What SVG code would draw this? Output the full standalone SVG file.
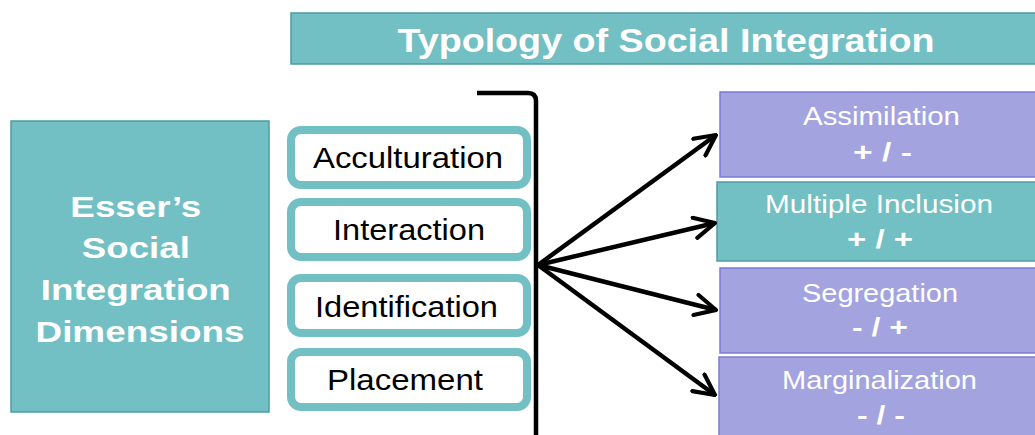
<svg xmlns="http://www.w3.org/2000/svg" width="1035" height="435" viewBox="0 0 1035 435">
<style>
.teal{fill:#72BFC4;stroke:#4E9CA1;stroke-width:1.5}
.lav{fill:#A3A3DF;stroke:#7B7BD6;stroke-width:1.5}
.dim{fill:#FFFFFF;stroke:#72BFC4;stroke-width:8}
.wt{font-family:"Liberation Sans",Arial,sans-serif;fill:#FFFFFF;text-anchor:middle}
.bt{font-family:"Liberation Sans",Arial,sans-serif;fill:#000000;text-anchor:middle;font-size:30px}
.b{font-weight:bold}
.conn{fill:none;stroke:#000;stroke-width:4.5}
</style>
<defs>
<marker id="ah" viewBox="0 0 12 12" refX="11" refY="6" markerWidth="5.5" markerHeight="5.5" orient="auto" markerUnits="strokeWidth">
<path d="M1,1 L11,6 L1,11" fill="none" stroke="#000" stroke-width="2" stroke-linecap="round" stroke-linejoin="round"/>
</marker>
</defs>
<g id="title">
<rect class="teal" x="291" y="13" width="760" height="51"/>
<text class="wt b" x="666" y="52" font-size="33" textLength="537" lengthAdjust="spacingAndGlyphs">Typology of Social Integration</text>
</g>
<g id="esser">
<rect class="teal" x="11" y="121" width="258" height="291"/>
<text class="wt b" font-size="30">
<tspan x="140" y="217" textLength="131" lengthAdjust="spacingAndGlyphs">Esser’s</tspan>
<tspan x="140" y="258" textLength="108" lengthAdjust="spacingAndGlyphs">Social</tspan>
<tspan x="140" y="300" textLength="190" lengthAdjust="spacingAndGlyphs">Integration</tspan>
<tspan x="140" y="342" textLength="209" lengthAdjust="spacingAndGlyphs">Dimensions</tspan>
</text>
</g>
<g id="acculturation">
<rect class="dim" x="291" y="130" width="236" height="55" rx="10"/>
<text class="bt" x="408" y="168" textLength="190" lengthAdjust="spacingAndGlyphs">Acculturation</text>
</g>
<g id="interaction">
<rect class="dim" x="291" y="202" width="236" height="55" rx="10"/>
<text class="bt" x="409" y="240" textLength="152" lengthAdjust="spacingAndGlyphs">Interaction</text>
</g>
<g id="identification">
<rect class="dim" x="291" y="278" width="236" height="55" rx="10"/>
<text class="bt" x="406.5" y="317" textLength="183" lengthAdjust="spacingAndGlyphs">Identification</text>
</g>
<g id="placement">
<rect class="dim" x="291" y="352" width="236" height="55" rx="10"/>
<text class="bt" x="405" y="390" textLength="156" lengthAdjust="spacingAndGlyphs">Placement</text>
</g>
<g id="assimilation">
<rect class="lav" x="720" y="92" width="330" height="85"/>
<text class="wt" x="881.5" y="125" font-size="26" textLength="157" lengthAdjust="spacingAndGlyphs">Assimilation</text>
<text class="wt b" x="882.5" y="161" font-size="26" textLength="59" lengthAdjust="spacingAndGlyphs">+ / -</text>
</g>
<g id="multiple-inclusion">
<rect class="teal" x="717" y="182" width="330" height="79"/>
<text class="wt" x="879" y="213" font-size="26" textLength="228" lengthAdjust="spacingAndGlyphs">Multiple Inclusion</text>
<text class="wt b" x="880" y="248" font-size="26" textLength="66" lengthAdjust="spacingAndGlyphs">+ / +</text>
</g>
<g id="segregation">
<rect class="lav" x="720" y="268" width="330" height="85"/>
<text class="wt" x="880" y="302" font-size="26" textLength="156" lengthAdjust="spacingAndGlyphs">Segregation</text>
<text class="wt b" x="880" y="336" font-size="26" textLength="56" lengthAdjust="spacingAndGlyphs">- / +</text>
</g>
<g id="marginalization">
<rect class="lav" x="719" y="357" width="330" height="90"/>
<text class="wt" x="879.5" y="389" font-size="26" textLength="195" lengthAdjust="spacingAndGlyphs">Marginalization</text>
<text class="wt b" x="881" y="424" font-size="26" textLength="48" lengthAdjust="spacingAndGlyphs">- / -</text>
</g>
<g id="connectors">
<path class="conn" d="M477,93 L528,93 Q536,93 536,101 L536,435"/>
<line class="conn" x1="538" y1="265" x2="716" y2="135" marker-end="url(#ah)"/>
<line class="conn" x1="538" y1="265" x2="715" y2="223" marker-end="url(#ah)"/>
<line class="conn" x1="538" y1="265" x2="716" y2="310" marker-end="url(#ah)"/>
<line class="conn" x1="538" y1="265" x2="715" y2="395" marker-end="url(#ah)"/>
</g>
</svg>
